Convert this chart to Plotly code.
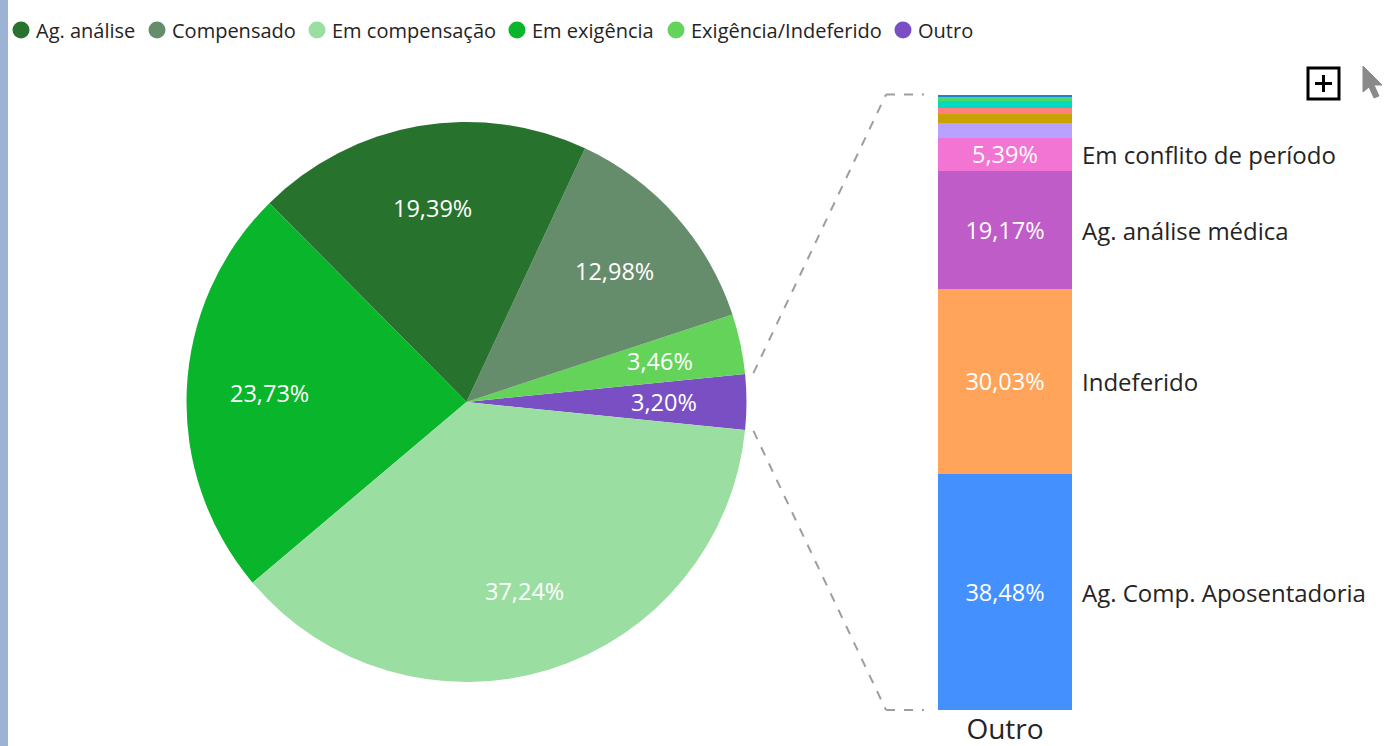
import math
import plotly.graph_objects as go

# Status categories of the pie (legend order) and their shares in %
pie_labels = ["Ag. análise", "Compensado", "Em compensação", "Em exigência",
              "Exigência/Indeferido", "Outro"]
pie_values = [19.39, 12.98, 37.24, 23.73, 3.46, 3.20]
pie_colors = ["#27732E", "#668D6B", "#9BDEA1", "#08B52B", "#63D35A", "#7B4FC4"]

# Order in which slices are laid out counterclockwise from 3 o'clock
pie_order = ["Outro", "Exigência/Indeferido", "Compensado", "Ag. análise",
             "Em exigência", "Em compensação"]

# Breakdown of the "Outro" slice (bottom to top of the stacked column)
bar_category = "Outro"
bar_labels = ["Ag. Comp. Aposentadoria", "Indeferido", "Ag. análise médica",
              "Em conflito de período", "Cancelado", "Em análise",
              "Suspenso", "Arquivado", "Desistência", "Outros"]
bar_values = [38.48, 30.03, 19.17, 5.39, 2.35, 1.45, 1.05, 1.05, 0.63, 0.40]
bar_colors = ["#4390FE", "#FFA45A", "#BF5CC7", "#F274D3", "#B7A2FF",
              "#C8A200", "#FF8080", "#00DBC0", "#4CD86A", "#1A80D8"]
bar_labelled = 4  # only the four largest segments carry text

W, H = 1389, 746
FONT = "Open Sans"
TXT = "#252423"

# Layout geometry (pixels)
pie_cx, pie_cy, pie_r = 466.5, 402.0, 280.0
bar_x0, bar_x1, bar_top, bar_bot = 938.0, 1072.0, 94.5, 710.0
label_r = 0.705          # radial position of slice labels (fraction of radius)
legend_cx = [21, 157, 317, 517, 676, 903]   # legend marker centres
legend_cy, legend_dot = 30, 17


def px(x):
    return x / W


def py(y):
    return 1 - y / H


def pct(v):
    return f"{v:.2f}%".replace(".", ",")


lookup = dict(zip(pie_labels, zip(pie_values, pie_colors)))
ord_vals = [lookup[k][0] for k in pie_order]
ord_cols = [lookup[k][1] for k in pie_order]
total = sum(ord_vals)
outro_deg = ord_vals[0] / total * 360.0

fig = go.Figure()

# Counterclockwise pies place the first slice on the clockwise side of `rotation`
fig.add_trace(go.Pie(
    labels=pie_order, values=ord_vals, sort=False,
    direction="counterclockwise", rotation=90 - outro_deg / 2,
    marker=dict(colors=ord_cols, line=dict(width=0)),
    textinfo="none",
    domain=dict(x=[px(pie_cx - pie_r), px(pie_cx + pie_r)],
                y=[py(pie_cy + pie_r), py(pie_cy - pie_r)]),
    showlegend=False, hoverinfo="label+percent",
))

# Slice percentages, placed along each slice's mid-angle
start = -outro_deg / 2
for v in ord_vals:
    span = v / total * 360.0
    mid = math.radians(start + span / 2)
    lx = pie_cx + label_r * pie_r * math.cos(mid)
    ly = pie_cy - label_r * pie_r * math.sin(mid)
    fig.add_annotation(x=px(lx), y=py(ly), xref="paper", yref="paper",
                       text=pct(v / total * 100), showarrow=False,
                       xanchor="center", yanchor="middle",
                       font=dict(size=23.5, color="white", family=FONT))
    start += span

# Legend: round markers followed by the category names
for lab, col, cx in zip(pie_labels, pie_colors, legend_cx):
    d = legend_dot / 2
    fig.add_shape(type="circle", xref="paper", yref="paper",
                  x0=px(cx - d), x1=px(cx + d), y0=py(legend_cy + d), y1=py(legend_cy - d),
                  fillcolor=col, line=dict(width=0))
    fig.add_annotation(x=px(cx + 13), y=py(legend_cy), xref="paper", yref="paper",
                       text=lab, showarrow=False, xanchor="left", yanchor="middle",
                       font=dict(size=20, color=TXT, family=FONT))

# Stacked column for the breakdown of "Outro"
for i, (lab, val, col) in enumerate(zip(bar_labels, bar_values, bar_colors)):
    fig.add_trace(go.Bar(
        x=[bar_category], y=[val], name=lab,
        marker=dict(color=col, line=dict(width=0)),
        texttemplate="%{y:.2f}%" if i < bar_labelled else "",
        textposition="inside", insidetextanchor="middle",
        constraintext="none",
        textfont=dict(color="white", size=23.5, family=FONT),
        showlegend=False, width=1.0,
    ))

# Category names to the right of the labelled segments
cum = 0.0
for i, (lab, val) in enumerate(zip(bar_labels, bar_values)):
    if i < bar_labelled:
        fig.add_annotation(
            x=0.5, y=cum + val / 2, xref="x", yref="y", xshift=8, yshift=-1,
            text=lab, showarrow=False, xanchor="left", yanchor="middle",
            font=dict(size=24, color=TXT, family=FONT),
        )
    cum += val

# Dashed connectors between the "Outro" slice and the column
half = math.radians(outro_deg / 2)
r_out = pie_r * 1.03
sx = pie_cx + r_out * math.cos(half)
for sign, by in ((-1, bar_top), (1, bar_bot)):
    sy = pie_cy + sign * r_out * math.sin(half)
    for (x0, y0, x1, y1) in ((sx, sy, 886, by), (886, by, 924, by)):
        fig.add_shape(type="line", xref="paper", yref="paper",
                      x0=px(x0), y0=py(y0), x1=px(x1), y1=py(y1),
                      line=dict(color="#9E9E9E", width=2, dash="dash"))

# Left accent strip
fig.add_shape(type="rect", xref="paper", yref="paper", x0=0, x1=px(8), y0=0, y1=1,
              fillcolor="#9DB3D6", line=dict(width=0), layer="below")

# Focus-mode and pointer icons at the top right
fig.add_shape(type="rect", xref="paper", yref="paper",
              x0=px(1308), x1=px(1339), y0=py(99), y1=py(68),
              line=dict(color="black", width=3), fillcolor="white")
fig.add_shape(type="line", xref="paper", yref="paper",
              x0=px(1323.5), x1=px(1323.5), y0=py(75), y1=py(92),
              line=dict(color="black", width=3))
fig.add_shape(type="line", xref="paper", yref="paper",
              x0=px(1315), x1=px(1332), y0=py(83.5), y1=py(83.5),
              line=dict(color="black", width=3))
arrow = [(1363, 66), (1363, 92), (1369, 87), (1374, 98), (1379, 96), (1374, 85), (1382, 85)]
fig.add_shape(type="path", xref="paper", yref="paper",
              path="M " + " L ".join(f"{px(a)},{py(b)}" for a, b in arrow) + " Z",
              fillcolor="#8A8A8A", line=dict(color="#8A8A8A", width=1))

fig.update_layout(
    width=W, height=H, autosize=False,
    margin=dict(l=0, r=0, t=0, b=0, autoexpand=False),
    paper_bgcolor="white", plot_bgcolor="white",
    separators=",.",
    barmode="stack", bargap=0,
    showlegend=False,
    font=dict(family=FONT, color=TXT),
    xaxis=dict(type="category", domain=[px(bar_x0), px(bar_x1)], range=[-0.5, 0.5],
               showgrid=False, zeroline=False, showline=False, ticks="",
               automargin=False, ticklabelstandoff=0,
               tickfont=dict(size=28, color=TXT, family=FONT), fixedrange=True),
    yaxis=dict(domain=[py(bar_bot), py(bar_top)], range=[0, 100], visible=False,
               automargin=False, fixedrange=True),
)

fig.write_html("out.html", config={"displayModeBar": False})
